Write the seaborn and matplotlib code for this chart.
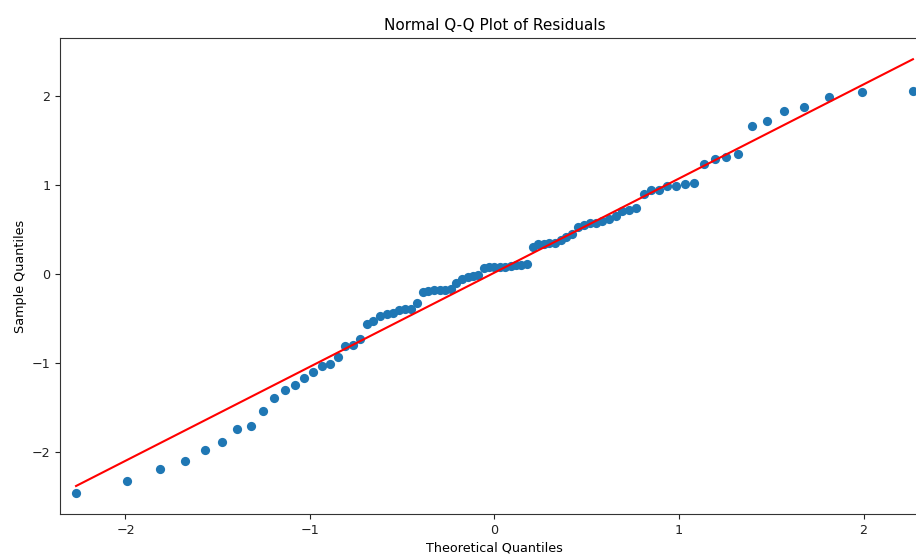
import numpy as np
import pandas as pd
import matplotlib
matplotlib.use("Agg")
import matplotlib.pyplot as plt
import seaborn as sns

# Theoretical quantiles
theoretical = [
    -2.268, -1.991, -1.813, -1.680, -1.570, -1.477, -1.395, -1.322, -1.255, -1.194,
    -1.136, -1.082, -1.031, -0.983, -0.937, -0.893, -0.850, -0.809, -0.769, -0.731,
    -0.693, -0.656, -0.620, -0.585, -0.551, -0.518, -0.485, -0.452, -0.420, -0.389,
    -0.358, -0.327, -0.296, -0.266, -0.236, -0.206, -0.176, -0.146, -0.117, -0.088,
    -0.058, -0.029, 0.000, 0.029, 0.058, 0.088, 0.117, 0.146, 0.176, 0.206,
    0.236, 0.266, 0.296, 0.327, 0.358, 0.389, 0.420, 0.452, 0.485, 0.518,
    0.551, 0.585, 0.620, 0.656, 0.693, 0.731, 0.769, 0.809, 0.850, 0.893,
    0.937, 0.983, 1.031, 1.082, 1.136, 1.194, 1.255, 1.322, 1.395, 1.477,
    1.570, 1.680, 1.813, 1.991, 2.268,
]

# Sample quantiles
sample = [
    -2.46, -2.33, -2.19, -2.10, -1.98, -1.89, -1.745, -1.71, -1.54, -1.40,
    -1.31, -1.245, -1.17, -1.10, -1.04, -1.01, -0.94, -0.81, -0.80, -0.73,
    -0.56, -0.53, -0.47, -0.45, -0.44, -0.41, -0.40, -0.40, -0.33, -0.20,
    -0.19, -0.185, -0.18, -0.18, -0.17, -0.10, -0.06, -0.04, -0.025, -0.01,
    0.06, 0.07, 0.07, 0.075, 0.07, 0.085, 0.095, 0.10, 0.11, 0.297,
    0.33, 0.335, 0.34, 0.35, 0.38, 0.41, 0.45, 0.52, 0.55, 0.57,
    0.575, 0.59, 0.62, 0.65, 0.71, 0.715, 0.74, 0.90, 0.945, 0.935,
    0.99, 0.985, 1.01, 1.02, 1.235, 1.29, 1.31, 1.35, 1.66, 1.715,
    1.83, 1.87, 1.98, 2.04, 2.055,
]

# Reference line (end points)
line_x = [-2.268, 2.268]
line_y = [-2.385, 2.41]

title = "Normal Q-Q Plot of Residuals"
xlabel = "Theoretical Quantiles"
ylabel = "Sample Quantiles"
xticks = [-2, -1, 0, 1, 2]
yticks = [-2, -1, 0, 1, 2]

df = pd.DataFrame({"theoretical": theoretical, "sample": sample})
df_line = pd.DataFrame({"x": line_x, "y": line_y})

plt.rcParams["font.family"] = ["DejaVu Sans"]
fig = plt.figure(figsize=(9.16, 5.54), dpi=100)
ax = fig.add_axes([60 / 916, 39.7 / 554, 869 / 916, 476 / 554])

sns.scatterplot(data=df, x="theoretical", y="sample", ax=ax,
                color="#1f77b4", s=44, linewidth=0, zorder=2)
sns.lineplot(data=df_line, x="x", y="y", ax=ax, color="red",
             linewidth=1.5, zorder=3)

ax.set_xlim(-2.355, 2.355)
ax.set_ylim(-2.703, 2.645)
ax.set_xticks(xticks)
ax.set_yticks(yticks)
ax.tick_params(labelsize=9.2, colors="#222222")
ax.set_title(title, fontsize=11, pad=6)
ax.set_xlabel(xlabel, fontsize=9.2, labelpad=3)
ax.set_ylabel(ylabel, fontsize=9.2, labelpad=3)
for sp in ax.spines.values():
    sp.set_color("#333333")

fig.savefig("out.png", dpi=100)
